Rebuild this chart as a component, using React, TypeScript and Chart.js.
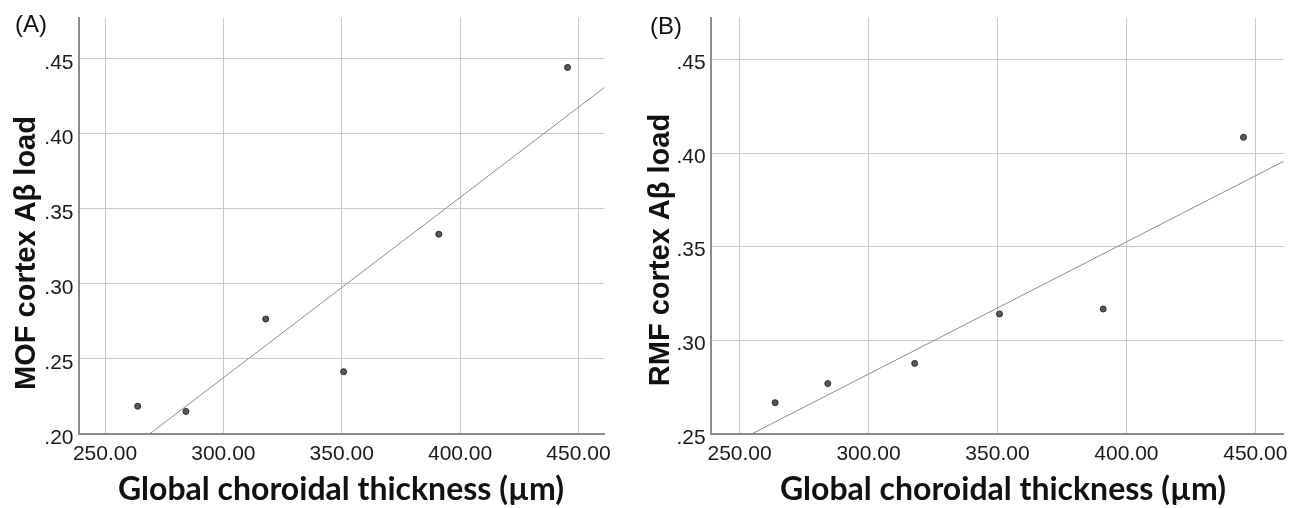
import React, { useEffect, useRef } from "react";
import { Chart, registerables } from "chart.js";

Chart.register(...registerables);

// ---- data ----
const thickness = [263.8, 284.2, 317.9, 350.8, 391.0, 445.4];
const mofLoad = [0.2185, 0.215, 0.2766, 0.2415, 0.3331, 0.4442];
const rmfLoad = [0.2667, 0.2769, 0.2877, 0.3141, 0.3167, 0.4084];
const xTicks = [250, 300, 350, 400, 450];
const mofTicks = [0.2, 0.25, 0.3, 0.35, 0.4, 0.45];
const rmfTicks = [0.25, 0.3, 0.35, 0.4, 0.45];
const xRange = [238.8, 461];
const mofRange = [0.2, 0.4774];
const rmfRange = [0.25, 0.4723];
const xTitle = "Global choroidal thickness (\u00b5m)";
const mofTitle = "MOF cortex A\u03b2 load";
const rmfTitle = "RMF cortex A\u03b2 load";

const TICK_FONT = '"Liberation Sans", Arial, sans-serif';

type Geom = {
  left: number;
  width: number;
  top: number;
  right: number;
  yAxisW: number;
  xAxisH: number;
  labelX: number;
  labelY: number;
  xTitleX: number;
  xTitleY: number;
  yTitleX: number;
  yTitleY: number;
};

type PanelProps = {
  panelLabel: string;
  yTitle: string;
  yValues: number[];
  yTicks: number[];
  yRange: number[];
  geom: Geom;
};

function fitLine(xs: number[], ys: number[]) {
  const n = xs.length;
  const mx = xs.reduce((a, b) => a + b, 0) / n;
  const my = ys.reduce((a, b) => a + b, 0) / n;
  let sxy = 0;
  let sxx = 0;
  for (let i = 0; i < n; i++) {
    sxy += (xs[i] - mx) * (ys[i] - my);
    sxx += (xs[i] - mx) * (xs[i] - mx);
  }
  const slope = sxy / sxx;
  return (x: number) => my + slope * (x - mx);
}

function ScatterPanel({ panelLabel, yTitle, yValues, yTicks, yRange, geom }: PanelProps) {
  const ref = useRef<HTMLCanvasElement>(null);

  useEffect(() => {
    if (!ref.current) return;
    const points = thickness.map((x, i) => ({ x, y: yValues[i] }));
    const f = fitLine(thickness, yValues);
    const fit = xRange.map((x) => ({ x, y: f(x) }));

    const titlePlugin = {
      id: "panelTitles",
      afterDraw(chart: any) {
        const ctx = chart.ctx as CanvasRenderingContext2D;
        ctx.save();
        ctx.fillStyle = "#111111";
        ctx.textBaseline = "alphabetic";
        ctx.textAlign = "left";
        ctx.font = `24px ${TICK_FONT}`;
        ctx.fillText(panelLabel, geom.labelX, geom.labelY);

        ctx.textAlign = "center";
        ctx.font = "bold 32px Lato, sans-serif";
        ctx.fillText(xTitle, geom.xTitleX, geom.xTitleY);

        ctx.translate(geom.yTitleX, geom.yTitleY);
        ctx.rotate(-Math.PI / 2);
        ctx.font = `bold 29px ${TICK_FONT}`;
        ctx.fillText(yTitle, 0, 0);
        ctx.restore();
      },
    };

    const chart = new Chart(ref.current, {
      type: "scatter",
      data: {
        datasets: [
          {
            data: fit,
            showLine: true,
            pointRadius: 0,
            borderColor: "#8e8e8e",
            borderWidth: 1,
            order: 2,
          },
          {
            data: points,
            pointRadius: 3,
            pointBackgroundColor: "#575757",
            pointBorderColor: "#2c2c2c",
            pointBorderWidth: 1,
            order: 1,
          },
        ],
      },
      options: {
        responsive: false,
        animation: false,
        events: [],
        layout: { padding: { left: 0, top: geom.top, right: geom.right, bottom: 0 } },
        plugins: { legend: { display: false }, tooltip: { enabled: false } },
        scales: {
          x: {
            type: "linear",
            min: xRange[0],
            max: xRange[1],
            afterBuildTicks: (s: any) => {
              s.ticks = xTicks.map((v) => ({ value: v }));
            },
            afterFit: (s: any) => {
              s.height = geom.xAxisH;
            },
            grid: { color: "#c8c8c8", lineWidth: 1, drawTicks: false },
            border: { color: "#8c8c8c", width: 2 },
            ticks: {
              padding: 8,
              autoSkip: false,
              maxRotation: 0,
              color: "#1a1a1a",
              font: { family: TICK_FONT, size: 21 },
              callback: (v: any) => Number(v).toFixed(2),
            },
          },
          y: {
            type: "linear",
            min: yRange[0],
            max: yRange[1],
            afterBuildTicks: (s: any) => {
              s.ticks = yTicks.map((v) => ({ value: v }));
            },
            afterFit: (s: any) => {
              s.width = geom.yAxisW;
            },
            grid: { color: "#c8c8c8", lineWidth: 1, drawTicks: false },
            border: { color: "#8c8c8c", width: 2 },
            ticks: {
              padding: 5,
              labelOffset: 4,
              autoSkip: false,
              color: "#1a1a1a",
              font: { family: TICK_FONT, size: 21 },
              callback: (v: any) => Number(v).toFixed(2).replace(/^0/, ""),
            },
          },
        },
      },
      plugins: [titlePlugin],
    } as any);

    return () => chart.destroy();
  }, []);

  return (
    <canvas
      ref={ref}
      width={geom.width}
      height={508}
      style={{ position: "absolute", left: geom.left, top: 0, width: geom.width, height: 508 }}
    />
  );
}

const geomA: Geom = {
  left: 0,
  width: 640,
  top: 16,
  right: 35.5,
  yAxisW: 78.5,
  xAxisH: 74,
  labelX: 15,
  labelY: 32,
  xTitleX: 341,
  xTitleY: 500,
  yTitleX: 35,
  yTitleY: 253,
};

const geomB: Geom = {
  left: 640,
  width: 659,
  top: 16,
  right: 15.3,
  yAxisW: 70.7,
  xAxisH: 74,
  labelX: 10,
  labelY: 34,
  xTitleX: 363,
  xTitleY: 500,
  yTitleX: 29,
  yTitleY: 250,
};

export default function App() {
  return (
    <div
      style={{
        position: "fixed",
        left: 0,
        top: 0,
        width: 1299,
        height: 508,
        background: "#ffffff",
        overflow: "hidden",
      }}
    >
      <ScatterPanel
        panelLabel="(A)"
        yTitle={mofTitle}
        yValues={mofLoad}
        yTicks={mofTicks}
        yRange={mofRange}
        geom={geomA}
      />
      <ScatterPanel
        panelLabel="(B)"
        yTitle={rmfTitle}
        yValues={rmfLoad}
        yTicks={rmfTicks}
        yRange={rmfRange}
        geom={geomB}
      />
    </div>
  );
}
